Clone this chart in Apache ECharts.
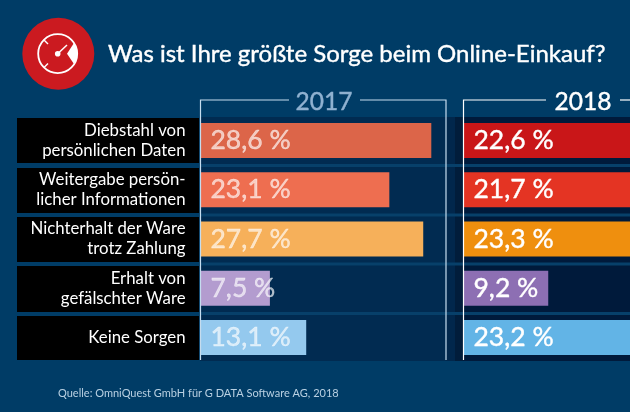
<!DOCTYPE html>
<html>
<head>
<meta charset="utf-8">
<style>
  html, body { margin: 0; padding: 0; background: #003c66; }
  #chart { width: 630px; height: 412px; }
</style>
<script src="https://cdn.jsdelivr.net/npm/echarts@6/dist/echarts.min.js"></script>
</head>
<body>
<div id="chart"></div>
<script>
const categories = [
  "Diebstahl von\npersönlichen Daten",
  "Weitergabe persön-\nlicher Informationen",
  "Nichterhalt der Ware\ntrotz Zahlung",
  "Erhalt von\ngefälschter Ware",
  "Keine Sorgen"
];
// printed percentages
const labels2017 = ["28,6 %", "23,1 %", "27,7 %", "7,5 %", "13,1 %"];
const labels2018 = ["22,6 %", "21,7 %", "23,3 %", "9,2 %", "23,2 %"];
// bar lengths as drawn in the picture: the short purple bars are longer than their labels say
const values2017 = [28.6, 23.4, 27.6, 8.6, 13.1];
const values2018 = [22.6, 21.7, 23.3, 10.5, 23.2];
const colors2017 = ["#dc6549", "#ee6e50", "#f6b05a", "#b39ccf", "#94c9ee"];
const colors2018 = ["#c91618", "#e43423", "#ef8f0e", "#8d6fb3", "#62b4e6"];
const years = ["2017", "2018"];
const fontName = "Lato";

const pxPerUnit = 8.07;
const rows = [[118, 163], [168, 213], [217, 262], [266, 312], [316, 360]];

function band(x, y, w, h, fill) {
  return { type: "rect", z: 0, shape: { x: x, y: y, width: w, height: h }, style: { fill: fill } };
}
function line(points, stroke) {
  return { type: "polyline", z: 10, shape: { points: points }, style: { stroke: stroke, lineWidth: 1.2, fill: null } };
}

const graphics = [
  // dark panels behind the bars
  band(200, 117, 246, 244, "#012b51"),
  band(446, 117, 9, 244, "#01274c"),
  band(455, 117, 8, 244, "#011d3b"),
  band(463, 117, 167, 244, "#001a3b"),
  // lighter stripes between rows
  band(200, 164, 430, 3, "#07406a"),
  band(200, 213.5, 430, 3, "#07406a"),
  band(200, 262.5, 430, 3, "#07406a"),
  band(200, 312, 430, 3, "#07406a"),
  // year brackets
  line([[200.5, 360], [200.5, 100], [289, 100]], "#c5dcee"),
  line([[360, 100], [446, 100], [446, 360]], "#c5dcee"),
  line([[463.5, 360], [463.5, 100], [546, 100]], "#ffffff"),
  line([[620, 100], [630, 100]], "#ffffff"),
  // gauge icon
  { type: "circle", z: 5, shape: { cx: 58.3, cy: 53.8, r: 36 }, style: { fill: "#cb1a20" } },
  { type: "circle", z: 6, shape: { cx: 57.7, cy: 53.7, r: 19.5 }, style: { fill: null, stroke: "#ffffff", lineWidth: 1.8 } },
  { type: "polygon", z: 6, shape: { points: [[67, 53.7], [74, 43], [77, 49], [77, 58], [74, 64]] }, style: { fill: "#ffffff" } },
  { type: "circle", z: 6, shape: { cx: 57.7, cy: 53.7, r: 2.8 }, style: { fill: "#ffffff" } },
  { type: "line", z: 6, shape: { x1: 57.7, y1: 53.7, x2: 67, y2: 45 }, style: { stroke: "#ffffff", lineWidth: 1.5 } },
  { type: "line", z: 6, shape: { x1: 44, y1: 40, x2: 48, y2: 44 }, style: { stroke: "#ffffff", lineWidth: 1.5 } },
  { type: "line", z: 6, shape: { x1: 44, y1: 67.5, x2: 48, y2: 63.5 }, style: { stroke: "#ffffff", lineWidth: 1.5 } }
];
// black label boxes
rows.forEach(function (r) {
  graphics.push(band(17, r[0], 182, r[1] - r[0], "#000000"));
});

function barSeries(index, values, labels, colors, labelColor) {
  return {
    type: "bar",
    xAxisIndex: index,
    yAxisIndex: index,
    barWidth: 35,
    clip: true,
    silent: true,
    data: values.map(function (v, i) {
      return { value: v, itemStyle: { color: colors[i] } };
    }),
    label: {
      show: true,
      position: "insideLeft",
      distance: 10,
      color: labelColor,
      fontFamily: fontName,
      fontSize: 26.5,
      textBorderColor: labelColor,
      textBorderWidth: 0.4,
      formatter: function (p) { return labels[p.dataIndex]; }
    }
  };
}

const myChart = echarts.init(document.getElementById("chart"));
const option = {
  backgroundColor: "#003c66",
  animation: false,
  title: [
    {
      text: "Was ist Ihre größte Sorge beim Online-Einkauf?",
      left: 103, top: 37,
      textStyle: { color: "#ffffff", fontFamily: fontName, fontSize: 24, fontWeight: 400, textBorderColor: "#ffffff", textBorderWidth: 0.4 }
    },
    {
      text: "Quelle: OmniQuest GmbH für G DATA Software AG, 2018",
      left: 53, top: 383,
      textStyle: { color: "#b8d0e2", fontFamily: fontName, fontSize: 11, fontWeight: 400 }
    },
    {
      text: years[0],
      left: 319, top: 85, textAlign: "center",
      textStyle: { color: "#8fb1d0", fontFamily: fontName, fontSize: 24.5, fontWeight: 400, textBorderColor: "#8fb1d0", textBorderWidth: 0.4 }
    },
    {
      text: years[1],
      left: 578, top: 85, textAlign: "center",
      textStyle: { color: "#ffffff", fontFamily: fontName, fontSize: 24.5, fontWeight: 400, textBorderColor: "#ffffff", textBorderWidth: 0.4 }
    }
  ],
  grid: [
    { left: 200.5, top: 116, width: 30 * pxPerUnit, height: 246 },
    { left: 463.5, top: 116, width: 166.5, height: 246 }
  ],
  xAxis: [
    { gridIndex: 0, type: "value", min: 0, max: 30, show: false },
    { gridIndex: 1, type: "value", min: 0, max: 166.5 / pxPerUnit, show: false }
  ],
  yAxis: [
    {
      gridIndex: 0, type: "category", inverse: true, data: categories,
      axisLine: { show: false },
      axisTick: { show: false },
      axisLabel: {
        margin: 15,
        align: "right",
        color: "#ffffff",
        fontFamily: fontName,
        fontSize: 16.8,
        lineHeight: 20
      }
    },
    { gridIndex: 1, type: "category", inverse: true, data: categories, show: false }
  ],
  series: [
    barSeries(0, values2017, labels2017, colors2017, "rgba(255,255,255,0.65)"),
    barSeries(1, values2018, labels2018, colors2018, "#ffffff")
  ],
  graphic: graphics
};
myChart.setOption(option);
</script>
</body>
</html>
